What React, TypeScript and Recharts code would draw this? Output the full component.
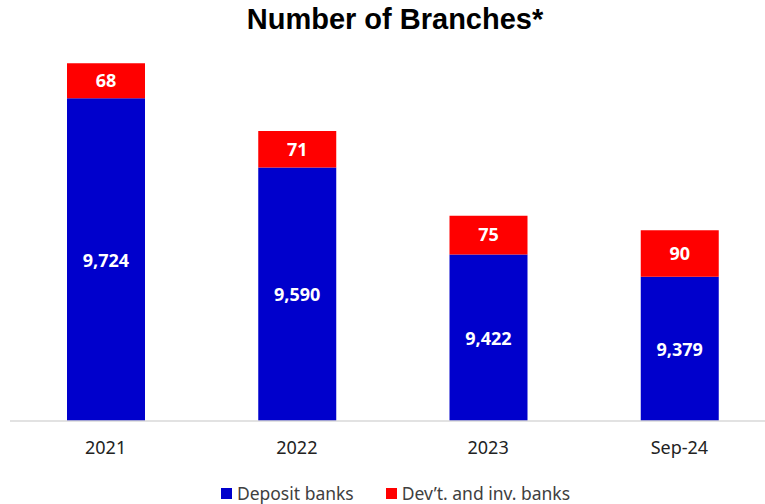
import { BarChart, Bar, XAxis, YAxis, Legend, LabelList } from 'recharts';

const categories = ['2021', '2022', '2023', 'Sep-24'];
const depositBanks = [9724, 9590, 9422, 9379];
const devInvBanks = [68, 71, 75, 90];

const data = categories.map((name, i) => ({
  name,
  deposit: depositBanks[i],
  devInv: devInvBanks[i],
}));

const BLUE = '#0000CC';
const RED = '#FF0000';
const PLOT_TOP = 59;
const PLOT_BOTTOM = 421;
const CHART_W = 780;
const CHART_H = 504;
const LEGEND_H = 22;
const XAXIS_H = CHART_H - PLOT_BOTTOM - LEGEND_H;

const fmt = (v: number) => v.toLocaleString('en-US');

function DepositLabel(props: any) {
  const { x, y, width, height, value } = props;
  const bottom = Math.min(y + height, PLOT_BOTTOM);
  const cy = (y + bottom) / 2;
  return (
    <text
      x={x + width / 2}
      y={cy}
      fill="#fff"
      fontSize={18}
      fontWeight="bold"
      fontFamily="Noto Sans"
      textAnchor="middle"
      dominantBaseline="central"
    >
      {fmt(value)}
    </text>
  );
}

function LegendContent() {
  const items = [
    { label: 'Deposit banks', color: BLUE },
    { label: 'Dev\u2019t. and inv. banks', color: RED },
  ];
  return (
    <div
      style={{
        height: LEGEND_H,
        display: 'flex',
        justifyContent: 'center',
        alignItems: 'center',
        paddingLeft: 6,
        gap: 32,
        fontFamily: 'Noto Sans',
        fontSize: 17.5,
        lineHeight: '22px',
        color: '#404040',
      }}
    >
      {items.map((it) => (
        <div key={it.label} style={{ display: 'flex', alignItems: 'center', gap: 5 }}>
          <span style={{ width: 11, height: 11, background: it.color, display: 'inline-block' }} />
          <span>{it.label}</span>
        </div>
      ))}
    </div>
  );
}

export default function App() {
  return (
    <div
      style={{
        position: 'absolute',
        left: 0,
        top: 0,
        width: 765,
        height: 504,
        overflow: 'hidden',
        background: '#fff',
      }}
    >
      <div
        style={{
          position: 'absolute',
          top: 4.5,
          left: 0,
          width: 790,
          textAlign: 'center',
          fontFamily: 'Liberation Sans',
          fontWeight: 'bold',
          fontSize: 29,
          lineHeight: 1,
          color: '#000',
          zIndex: 1,
        }}
      >
        Number of Branches*
      </div>
      <BarChart
        width={CHART_W}
        height={CHART_H}
        data={data}
        margin={{ top: PLOT_TOP, right: 5, bottom: 0, left: 10 }}
      >
        <XAxis
          dataKey="name"
          height={XAXIS_H}
          axisLine={{ stroke: '#d9d9d9', strokeWidth: 1.5 }}
          tickLine={false}
          tickSize={0}
          tickMargin={20}
          tick={{ fill: '#222', fontSize: 18, fontFamily: 'Noto Sans' }}
        />
        <YAxis hide domain={[9100, 9800]} allowDataOverflow />
        <Legend verticalAlign="bottom" height={LEGEND_H} content={<LegendContent />} />
        <Bar dataKey="deposit" stackId="a" fill={BLUE} barSize={78} isAnimationActive={false}>
          <LabelList dataKey="deposit" content={<DepositLabel />} />
        </Bar>
        <Bar dataKey="devInv" stackId="a" fill={RED} barSize={78} isAnimationActive={false}>
          <LabelList
            dataKey="devInv"
            position="center"
            fill="#fff"
            fontSize={18}
            fontWeight="bold"
            fontFamily="Noto Sans"
          />
        </Bar>
      </BarChart>
    </div>
  );
}
